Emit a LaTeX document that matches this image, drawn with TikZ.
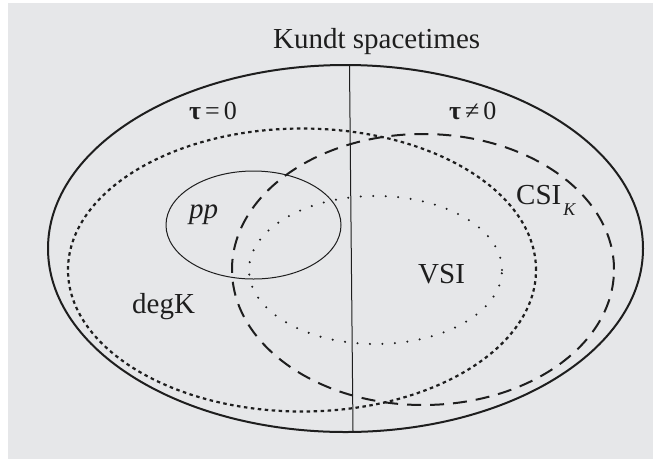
\documentclass[tikz,border=0pt]{standalone}
\usepackage{fontspec}
\setmainfont{Liberation Serif}
\definecolor{bgray}{HTML}{E6E7E9}
\definecolor{ink}{HTML}{1E1E1E}
\begin{document}
\begin{tikzpicture}[x=1pt,y=-1pt,
  lbl/.style={inner sep=0pt,anchor=base west,text=ink,font=\fontsize{29}{34}\selectfont},
  taulbl/.style={inner sep=0pt,anchor=base west,text=ink,font=\fontsize{26}{30}\selectfont},
  outerset/.style={draw=ink,line width=2pt},
  degkset/.style={draw=ink,line width=2.2pt,dash pattern=on 3.5pt off 3.5pt},
  csiset/.style={draw=ink,line width=2pt,dash pattern=on 14pt off 9pt},
  vsiset/.style={draw=ink,line width=2.3pt,line cap=round,dash pattern=on 0pt off 12.5pt},
  ppset/.style={draw=ink,line width=1pt},
  divider/.style={draw=ink,line width=1pt}]
\useasboundingbox (0,0) rectangle (653,459);
\fill[bgray] (8,3) rectangle (653,459);
% sets
\draw[outerset] (345.5,248.5) ellipse [x radius=297.5pt, y radius=183.5pt];
\draw[degkset] (302,270) ellipse [x radius=234pt, y radius=141.5pt];
\draw[csiset] (423,269.5) ellipse [x radius=191pt, y radius=135.5pt];
\draw[vsiset] (375.5,270) ellipse [x radius=126.5pt, y radius=74pt];
\draw[ppset] (253.5,225) ellipse [x radius=87.5pt, y radius=54pt];
% divider
\coordinate (vtop) at (349.5,66);
\coordinate (vbot) at (353,431);
\draw[divider] (vtop) -- (vbot);
% labels
\node[lbl] (title) at (273,48) {Kundt spacetimes};
\node[taulbl] (tz) at (189,119) {\textbf{τ}\kern4pt=\kern4pt0};
\node[taulbl] (tnz) at (449,119) {\textbf{τ}\kern4pt≠\kern4pt0};
\node[lbl] (pp) at (189,218) {\itshape pp};
\node[lbl] (degk) at (132,313) {degK};
\node[lbl] (csik) at (516,204) {CSI\kern2pt\raisebox{-11pt}{\fontsize{18}{20}\selectfont\itshape K}};
\node[lbl] (vsi) at (418,283) {VSI};
\end{tikzpicture}
\end{document}
